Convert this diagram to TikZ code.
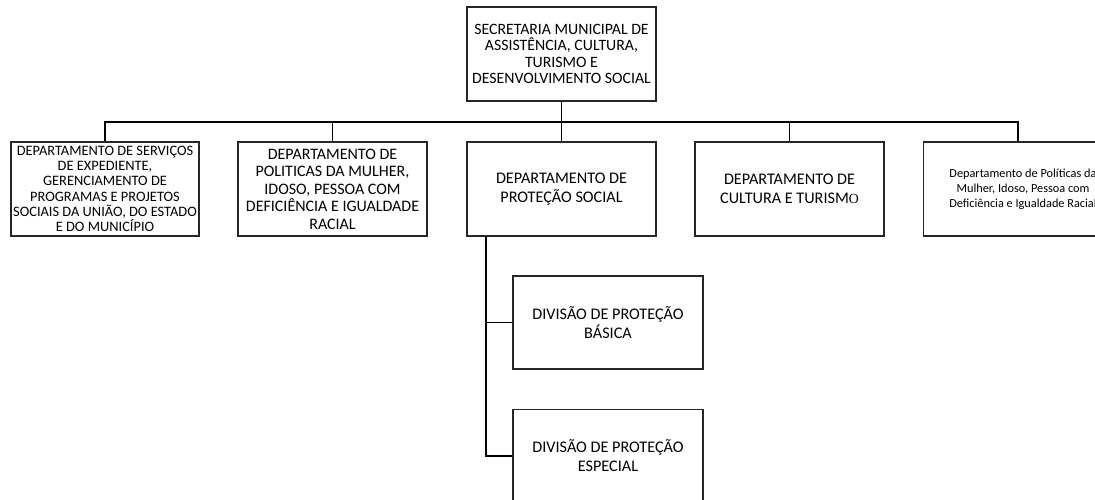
\documentclass[tikz,border=0pt]{standalone}
\usepackage{fontspec}
\setmainfont{Carlito}
\newfontfamily\serifo{Liberation Serif}
\begin{document}
\begin{tikzpicture}[x=1pt,y=-1pt,
  box/.style={draw=black!85,line width=1.3pt,inner sep=0pt,align=center},
  conn/.style={draw=black,line width=1.4pt}]
\clip (0,0) rectangle (1095,500);
\fill[white] (0,0) rectangle (1095,500);
% top
\node[box,minimum width=189pt,minimum height=94pt,font=\fontsize{15.8}{16.5}\selectfont] (top) at (561.5,54)
 {SECRETARIA MUNICIPAL DE\\ASSISTÊNCIA, CULTURA,\\TURISMO E\\DESENVOLVIMENTO SOCIAL};
% departments
\node[box,minimum width=188pt,minimum height=94pt,font=\fontsize{14.4}{15.3}\selectfont] (d1) at (105,189)
 {DEPARTAMENTO DE SERVIÇOS\\DE EXPEDIENTE,\\GERENCIAMENTO DE\\PROGRAMAS E PROJETOS\\SOCIAIS DA UNIÃO, DO ESTADO\\E DO MUNICÍPIO};
\node[box,minimum width=189pt,minimum height=94pt,font=\fontsize{16}{17.5}\selectfont] (d2) at (332.5,189)
 {DEPARTAMENTO DE\\POLITICAS DA MULHER,\\IDOSO, PESSOA COM\\DEFICIÊNCIA E IGUALDADE\\RACIAL};
\node[box,minimum width=189pt,minimum height=94pt,font=\fontsize{16.2}{19}\selectfont] (d3) at (561.5,189)
 {DEPARTAMENTO DE\\PROTEÇÃO SOCIAL};
\node[box,minimum width=189pt,minimum height=94pt,font=\fontsize{16.2}{19}\selectfont] (d4) at (789.5,189)
 {DEPARTAMENTO DE\\CULTURA E TURISM{\serifo\fontsize{13.8}{19}\selectfont O}};
\node[box,minimum width=189pt,minimum height=94pt,font=\fontsize{12.3}{15}\selectfont] (d5) at (1018,189)
 {\hspace*{10pt}Departamento de Políticas da\\\hspace*{10pt}Mulher, Idoso, Pessoa com\\\hspace*{10pt}Deficiência e Igualdade Racial};
% divisions
\node[box,minimum width=190pt,minimum height=93pt,font=\fontsize{16.2}{19}\selectfont] (b1) at (608,322.5)
 {DIVISÃO DE PROTEÇÃO\\BÁSICA};
\node[box,minimum width=190pt,minimum height=93pt,font=\fontsize{16.2}{19}\selectfont] (b2) at (608,456)
 {DIVISÃO DE PROTEÇÃO\\ESPECIAL};
% connectors
\coordinate (bar) at (0,122);
\coordinate (trunk) at (486,236);
\draw[conn] (top.south) -- (top.south |- bar);
\draw[conn] (d1.north) -- (d1.north |- bar) -| (d5.north);
\draw[conn] (d2.north) -- (d2.north |- bar);
\draw[conn] (d3.north) -- (d3.north |- bar);
\draw[conn] (d4.north) -- (d4.north |- bar);
\draw[conn] (trunk) |- (b2.west);
\draw[conn] (trunk |- b1.west) -- (b1.west);
\end{tikzpicture}
\end{document}
